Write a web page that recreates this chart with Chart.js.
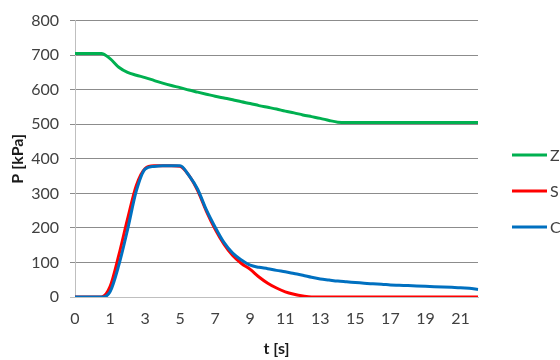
<!DOCTYPE html>
<html>
<head>
<meta charset="utf-8">
<script src="https://cdn.jsdelivr.net/npm/chart.js@4.4.1/dist/chart.umd.min.js"></script>
<style>
  html, body { margin: 0; padding: 0; background: #fff; }
  #wrap { width: 560px; height: 360px; }
</style>
</head>
<body>
<div id="wrap"><canvas id="chart" width="560" height="360"></canvas></div>
<script>
// x tick labels, one every 4th sample
const tickLabels = ["0", "1", "3", "5", "7", "9", "11", "13", "15", "17", "19", "21"];
const sampleCount = 47;
const categories = [];
for (let i = 0; i < sampleCount; i++) {
  categories.push(i % 4 === 0 ? tickLabels[i / 4] : "");
}

const seriesNames = ["Z", "S", "C"];
const seriesColors = ["#00B050", "#FF0000", "#0070C0"];

const zValues = [705, 705, 705, 705, 690, 665, 650, 642, 635, 627, 619, 612, 606, 599, 593,
  587, 581, 576, 571, 565, 560, 554, 549, 544, 538, 533, 527, 522, 517, 511, 506,
  505, 505, 505, 505, 505, 505, 505, 505, 505, 505, 505, 505, 505, 505, 505, 505];
const sValues = [0, 0, 0, 0, 30, 121, 226, 323, 372, 380, 380, 380, 378, 352, 308,
  248, 196, 153, 120, 97, 80, 58, 40, 26, 15, 8, 3, 0, 0, 0, 0,
  0, 0, 0, 0, 0, 0, 0, 0, 0, 0, 0, 0, 0, 0, 0, 0];
const cValues = [0, 0, 0, 0, 15, 92, 195, 307, 370, 378, 380, 380, 380, 352, 312,
  252, 202, 158, 127, 107, 92, 86, 82, 77, 73, 68, 63, 57, 52, 49, 46,
  44, 42, 40, 38, 37, 35, 34, 33, 32, 31, 30, 29, 28, 27, 25, 22];

const allValues = [zValues, sValues, cValues];
const FONT = "Lato, 'Open Sans', sans-serif";

const datasets = seriesNames.map((name, i) => ({
  label: name,
  data: allValues[i],
  borderColor: seriesColors[i],
  backgroundColor: seriesColors[i],
  borderWidth: 3,
  pointRadius: 0,
  cubicInterpolationMode: "monotone",
  order: seriesNames.length - i,
}));

// legend drawn by hand so it can sit where the reference has it
const sideLegend = {
  id: "sideLegend",
  afterDraw(chart) {
    const ctx = chart.ctx;
    ctx.save();
    chart.data.datasets.forEach((ds, i) => {
      const y = 155 + i * 36;
      ctx.strokeStyle = ds.borderColor;
      ctx.lineWidth = 3;
      ctx.beginPath();
      ctx.moveTo(512, y);
      ctx.lineTo(547, y);
      ctx.stroke();
      ctx.fillStyle = "#404040";
      ctx.font = "16px " + FONT;
      ctx.textAlign = "left";
      ctx.textBaseline = "middle";
      ctx.fillText(ds.label, 550, y + 1);
    });
    ctx.restore();
  },
};

new Chart(document.querySelector("#chart").getContext("2d"), {
  type: "line",
  data: { labels: categories, datasets: datasets },
  options: {
    responsive: false,
    animation: false,
    layout: { padding: { top: 19, right: 82, left: 0, bottom: 0 } },
    plugins: {
      legend: { display: false },
      tooltip: { enabled: false },
    },
    scales: {
      x: {
        grid: { display: false, drawTicks: false },
        border: { display: true, color: "#bfbfbf", width: 1 },
        ticks: {
          autoSkip: false,
          maxRotation: 0,
          padding: 12,
          color: "#404040",
          font: { family: FONT, size: 16 },
        },
        title: {
          display: true,
          text: "t [s]",
          color: "#1a1a1a",
          font: { family: FONT, size: 16, weight: "bold" },
          padding: { top: 0, bottom: 2 },
        },
        afterFit(axis) {
          axis.height = 63;
        },
      },
      y: {
        min: 0,
        max: 800,
        ticks: {
          stepSize: 100,
          padding: 11,
          color: "#404040",
          font: { family: FONT, size: 16 },
        },
        grid: {
          color: (c) => (c.tick && c.tick.value === 0 ? "#bfbfbf" : "#8c8c8c"),
          drawTicks: true,
          tickLength: 5,
        },
        border: { display: true, color: "#bfbfbf", width: 1 },
        title: {
          display: true,
          text: "P [kPa]",
          color: "#1a1a1a",
          font: { family: FONT, size: 16, weight: "bold" },
          padding: { top: 8, bottom: 0 },
        },
        afterFit(axis) {
          axis.width = 75;
        },
      },
    },
  },
  plugins: [sideLegend],
});
</script>
</body>
</html>
